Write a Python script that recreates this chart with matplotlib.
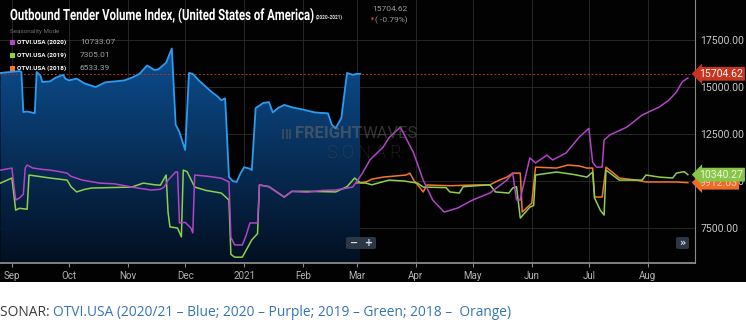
import matplotlib.pyplot as plt
import matplotlib.dates as mdates
import matplotlib.ticker as mticker
from matplotlib.patches import Rectangle, FancyBboxPatch, PathPatch
from matplotlib.textpath import TextPath
from matplotlib.font_manager import FontProperties
from matplotlib.transforms import Affine2D, IdentityTransform
import numpy as np
import pandas as pd

# OTVI.USA current season (2020/21)
blue_dates = ['2020-08-26', '2020-08-31', '2020-09-05', '2020-09-06', '2020-09-07', '2020-09-09',
              '2020-09-13', '2020-09-14', '2020-09-16', '2020-09-17', '2020-09-21', '2020-09-24',
              '2020-09-28', '2020-09-29', '2020-10-01', '2020-10-05', '2020-10-09', '2020-10-15',
              '2020-10-20', '2020-10-25', '2020-10-30', '2020-11-03', '2020-11-07', '2020-11-11',
              '2020-11-15', '2020-11-17', '2020-11-21', '2020-11-24', '2020-11-26', '2020-11-28',
              '2020-12-01', '2020-12-03', '2020-12-05', '2020-12-08', '2020-12-12', '2020-12-15',
              '2020-12-18', '2020-12-20', '2020-12-22', '2020-12-24', '2020-12-26', '2020-12-28',
              '2020-12-30', '2021-01-01', '2021-01-04', '2021-01-05', '2021-01-07', '2021-01-11',
              '2021-01-14', '2021-01-16', '2021-01-19', '2021-01-22', '2021-01-27', '2021-02-01',
              '2021-02-07', '2021-02-14', '2021-02-16', '2021-02-18', '2021-02-21', '2021-02-24',
              '2021-02-27', '2021-03-01', '2021-03-03']
blue_vals = [15750, 15800, 15850, 15800, 13670, 13700, 13610, 15800, 15600, 15270, 15300, 15500,
             15650, 15450, 15350, 15450, 15200, 15000, 15250, 15300, 15350, 15500, 15700, 16150,
             15900, 15950, 16300, 17050, 13000, 12600, 11650, 15750, 15700, 15370, 15000, 14730,
             14500, 14300, 14400, 10210, 10000, 9950, 10400, 10740, 10650, 10580, 13880, 14150,
             14200, 13650, 13900, 14050, 13900, 13800, 13650, 13600, 13000, 12800, 13350, 15750,
             15650, 15700, 15704.62]

# OTVI.USA (2020) seasonality
purple_dates = ['2020-08-26', '2020-09-01', '2020-09-02', '2020-09-03', '2020-09-05', '2020-09-07',
                '2020-09-08', '2020-09-09', '2020-09-12', '2020-09-17', '2020-09-21', '2020-09-26',
                '2020-09-30', '2020-10-02', '2020-10-08', '2020-10-17', '2020-10-25', '2020-11-03',
                '2020-11-13', '2020-11-18', '2020-11-20', '2020-11-22', '2020-11-26', '2020-11-27',
                '2020-11-28', '2020-12-01', '2020-12-04', '2020-12-05', '2020-12-06', '2020-12-13',
                '2020-12-20', '2020-12-24', '2020-12-25', '2020-12-27', '2020-12-31', '2021-01-02',
                '2021-01-04', '2021-01-08', '2021-01-09', '2021-01-14', '2021-01-22', '2021-01-26',
                '2021-02-03', '2021-02-11', '2021-02-18', '2021-02-27', '2021-03-04', '2021-03-08',
                '2021-03-15', '2021-03-18', '2021-03-24', '2021-03-31', '2021-04-05', '2021-04-10',
                '2021-04-16', '2021-04-23', '2021-05-01', '2021-05-10', '2021-05-19', '2021-05-22',
                '2021-05-24', '2021-05-26', '2021-05-27', '2021-05-31', '2021-06-03', '2021-06-09',
                '2021-06-12', '2021-06-19', '2021-06-26', '2021-07-01', '2021-07-03', '2021-07-05',
                '2021-07-08', '2021-07-09', '2021-07-12', '2021-07-21', '2021-07-29', '2021-08-07',
                '2021-08-12', '2021-08-16', '2021-08-19', '2021-08-22']
purple_vals = [10580, 10690, 9800, 8990, 9100, 9300, 10700, 10850, 10690, 10620, 10580, 10500,
               10420, 10250, 10050, 9890, 9850, 9680, 9520, 9560, 9680, 10050, 10480, 10480,
               7770, 7800, 7500, 7240, 10320, 10250, 10150, 9950, 7000, 6600, 6600, 7100,
               7770, 7770, 9790, 9700, 9150, 9450, 9400, 9500, 9520, 9680, 10400, 11120,
               11810, 12300, 12870, 11490, 10050, 8990, 8350, 8560, 8990, 9360, 10050, 10420,
               9000, 8990, 9500, 11230, 10960, 11380, 11120, 11490, 12340, 12800, 11000, 10740,
               10740, 12180, 12450, 12870, 13510, 13940, 14300, 14730, 15270, 15480]

# OTVI.USA (2019) seasonality
green_dates = ['2020-08-26', '2020-09-01', '2020-09-03', '2020-09-05', '2020-09-09', '2020-09-10',
               '2020-09-21', '2020-09-30', '2020-10-02', '2020-10-05', '2020-10-09', '2020-10-13',
               '2020-10-22', '2020-11-03', '2020-11-09', '2020-11-15', '2020-11-18', '2020-11-21',
               '2020-11-22', '2020-11-23', '2020-11-27', '2020-11-29', '2020-11-30', '2020-12-02',
               '2020-12-06', '2020-12-12', '2020-12-20', '2020-12-24', '2020-12-25', '2020-12-27',
               '2020-12-31', '2021-01-05', '2021-01-08', '2021-01-09', '2021-01-14', '2021-01-22',
               '2021-01-26', '2021-02-05', '2021-02-18', '2021-02-24', '2021-02-28', '2021-03-03',
               '2021-03-06', '2021-03-09', '2021-03-18', '2021-03-26', '2021-04-02', '2021-04-05',
               '2021-04-17', '2021-04-19', '2021-04-24', '2021-04-26', '2021-05-10', '2021-05-13',
               '2021-05-20', '2021-05-22', '2021-05-24', '2021-05-26', '2021-05-31', '2021-06-02',
               '2021-06-03', '2021-06-14', '2021-06-23', '2021-06-30', '2021-07-03', '2021-07-04',
               '2021-07-07', '2021-07-09', '2021-07-10', '2021-07-17', '2021-07-29', '2021-07-31',
               '2021-08-07', '2021-08-14', '2021-08-16', '2021-08-20', '2021-08-22']
green_vals = [9890, 10160, 8450, 8550, 8500, 10320, 10160, 10050, 9700, 9420, 9550, 9630,
              9650, 9680, 9890, 9800, 9780, 10320, 8350, 7560, 7500, 7030, 10580, 10500,
              9680, 9500, 9360, 8990, 6100, 5950, 5950, 6870, 7200, 9790, 9700, 9150,
              9450, 9450, 9420, 9700, 10160, 9900, 9890, 9800, 10050, 10000, 9890, 9680,
              9650, 9420, 9360, 9700, 9800, 9420, 9360, 9630, 9700, 8030, 8610, 8700,
              10320, 10480, 10350, 10210, 10480, 9100, 8450, 8190, 10580, 10050, 10050, 10320,
              10210, 10160, 10420, 10500, 10340.27]

# OTVI.USA (2018) seasonality
orange_dates = ['2021-03-01', '2021-03-06', '2021-03-09', '2021-03-15', '2021-03-27', '2021-03-29',
                '2021-03-31', '2021-04-03', '2021-04-05', '2021-04-07', '2021-04-19', '2021-05-02',
                '2021-05-10', '2021-05-15', '2021-05-19', '2021-05-22', '2021-05-26', '2021-05-27',
                '2021-06-01', '2021-06-03', '2021-06-14', '2021-06-20', '2021-06-26', '2021-06-30',
                '2021-07-03', '2021-07-04', '2021-07-08', '2021-07-10', '2021-07-13', '2021-07-17',
                '2021-07-26', '2021-07-31', '2021-08-16', '2021-08-22']
orange_vals = [9890, 9950, 10100, 10210, 10320, 10420, 10050, 9680, 9420, 9790, 9750, 9790,
               9800, 10050, 10210, 10420, 10420, 8350, 8820, 10740, 10690, 10850, 10800, 10690,
               10690, 9150, 9150, 10740, 10500, 10160, 10050, 9950, 9950, 9912.03]

legend_names = ['OTVI.USA (2020)', 'OTVI.USA (2019)', 'OTVI.USA (2018)']
legend_vals = ['10733.07', '7305.01', '6533.39']
y_ticks = [7500, 10000, 12500, 15000, 17500]

BLUE = '#2b9cf0'
PURPLE = '#b145c6'
GREEN = '#8fcf4c'
ORANGE = '#f2782c'

W, H = 746, 336
fig = plt.figure(figsize=(W / 100, H / 100), dpi=100)
fig.patch.set_facecolor('white')
fig.add_artist(Rectangle((0, 54 / H), 1, 282 / H, transform=fig.transFigure,
                         facecolor='#020202', edgecolor='none', zorder=0))

ax = fig.add_axes([0, 73 / H, 695 / W, 263 / H])
ax.set_facecolor('#020202')

bd = pd.to_datetime(blue_dates)
bx = mdates.date2num(bd)

# gradient fill under the current season line
poly = ax.fill_between(bd, blue_vals, 0, facecolor='none', edgecolor='none')
grad = np.linspace(0, 1, 256)[:, None, None]
top = np.array([0.05, 0.31, 0.57])
bottom = np.array([0.01, 0.06, 0.13])
rgb = bottom + (top - bottom) * grad
im = ax.imshow(rgb, extent=(bx[0], bx[-1], 5640, 17100), origin='lower',
               aspect='auto', zorder=1, interpolation='bilinear')
im.set_clip_path(poly.get_paths()[0], transform=ax.transData)

ax.plot(bd, blue_vals, color=BLUE, lw=1.3, zorder=3)
ax.plot(pd.to_datetime(orange_dates), orange_vals, color=ORANGE, lw=1.1, zorder=3)
ax.plot(pd.to_datetime(green_dates), green_vals, color=GREEN, lw=1.1, zorder=3)
ax.plot(pd.to_datetime(purple_dates), purple_vals, color=PURPLE, lw=1.1, zorder=3)

ax.axhline(blue_vals[-1], color='#b8321f', lw=0.7, ls=(0, (2, 2)), zorder=2)

ax.set_xlim(pd.Timestamp('2020-08-25 18:00'), pd.Timestamp('2021-08-25 18:00'))
ax.set_ylim(5640, 19630)

# grid and axes
ax.xaxis.set_major_locator(mdates.MonthLocator())
ax.xaxis.set_major_formatter(mticker.FuncFormatter(
    lambda v, p: mdates.num2date(v).strftime('%Y' if mdates.num2date(v).month == 1 else '%b')))
ax.set_yticks(y_ticks)
ax.yaxis.set_major_formatter(mticker.FormatStrFormatter('%.2f'))
ax.yaxis.tick_right()
ax.grid(True, color='#2c2c2c', lw=0.6, zorder=0)
ax.set_axisbelow(True)

for s in ['left', 'top']:
    ax.spines[s].set_visible(False)
ax.spines['right'].set_color('#8a8a8a')
ax.spines['bottom'].set_color('#8a8a8a')
ax.spines['bottom'].set_linewidth(1.3)
ax.tick_params(axis='x', colors='#8a8a8a', length=3, pad=3, labelsize=7, labelcolor='#b4b4b4')
ax.tick_params(axis='y', length=0, pad=4, labelsize=7.6, labelcolor='#c8c8c8')
for lab in ax.get_xticklabels() + ax.get_yticklabels():
    lab.set_family('Roboto')

# value tags on the right axis
tags = [(blue_vals[-1], '#c9341f', 'white'),
        (orange_vals[-1], '#ee6b25', '#f6d0b8'),
        (green_vals[-1], '#86c548', '#eaf7dc')]
for val, bg, fg in tags:
    ax.annotate(f'{val:.2f}', xy=(1, val), xycoords=ax.get_yaxis_transform(),
                xytext=(3, 0), textcoords='offset points', va='center', ha='left',
                fontsize=7.6, family='Roboto', color=fg, zorder=6, annotation_clip=False,
                bbox=dict(boxstyle='larrow,pad=0.18', fc=bg, ec='none'))

# title, drawn as a path squeezed horizontally to a condensed look
title = 'Outbound Tender Volume Index, (United States of America)'
tp = TextPath((0, 0), title, size=15.5, prop=FontProperties(family='Roboto', weight='bold'))
ext = tp.get_extents()
sx = 303 / ext.width
fig.add_artist(PathPatch(tp, transform=Affine2D().scale(sx, 1).translate(10, H - 20)
                         + IdentityTransform(), facecolor='white', edgecolor='none',
                         zorder=5))
fig.text(316 / W, 1 - 17 / H, '(2020-2021)', color='#dddddd', fontsize=3.4,
         fontweight='bold', va='center', family='Roboto')
fig.text(372 / W, 1 - 9 / H, '15704.62', color='#9a9a9a', fontsize=6, va='center',
         family='Roboto')
fig.text(370 / W, 1 - 20 / H, '\u2022', color='#e03030', fontsize=6, va='center')
fig.text(375 / W, 1 - 20 / H, '( -0.79%)', color='#9a9a9a', fontsize=6, va='center',
         family='Roboto')

# legend
fig.text(10 / W, 1 - 32 / H, 'Seasonality Mode', color='#6e6e6e', fontsize=4.5,
         va='center', family='Roboto')
for i, (name, val, col) in enumerate(zip(legend_names, legend_vals, [PURPLE, GREEN, ORANGE])):
    yy = 1 - (42 + 13 * i) / H
    fig.add_artist(Rectangle((10 / W, yy - 2.5 / H), 5 / W, 5 / H,
                             transform=fig.transFigure, facecolor=col, edgecolor='none',
                             zorder=5))
    fig.text(17 / W, yy, name, color='white', fontsize=4.6, fontweight='bold',
             va='center', zorder=5, family='Roboto')
    fig.text(80 / W, yy, val, color='#a0a0a0', fontsize=6, va='center', family='Roboto',
             zorder=5)

# watermark
for k in range(3):
    fig.add_artist(Rectangle(((282 + 3.5 * k) / W, 1 - 139 / H), 2.4 / W, 10 / H,
                             transform=fig.transFigure, facecolor='#5a5a5a', alpha=0.55,
                             edgecolor='none', zorder=4))
wm = fig.text(295 / W, 1 - 134 / H, 'FREIGHT', color='#6a6a6a', alpha=0.55,
              fontsize=12, fontweight='bold', va='center', family='Roboto', zorder=4)
ax.annotate('WAVES', xy=(1, 0.5), xycoords=wm, va='center', ha='left', color='#5a5a5a',
            alpha=0.55, fontsize=12, family='Roboto', annotation_clip=False, zorder=4)
fig.text(327 / W, 1 - 153 / H, 'S O N A R', color='#5a5a5a', alpha=0.5, fontsize=13,
         va='center', fontweight='light', family='Roboto', zorder=4)

# zoom buttons
for x0, w, txt in [(346, 30, '\u2212  +'), (676, 13, '\u00bb')]:
    fig.add_artist(FancyBboxPatch((x0 / W, 1 - 249 / H), w / W, 12 / H,
                                  boxstyle='round,pad=0,rounding_size=0.004',
                                  transform=fig.transFigure, facecolor='#2b3744',
                                  edgecolor='none', zorder=5))
    fig.text((x0 + w / 2) / W, 1 - 243 / H, txt, color='#d8dee6', fontsize=7,
             ha='center', va='center', zorder=6, fontweight='bold')

# caption below the chart
cap = fig.text(0, 1 - 313 / H, 'SONAR: ', color='#3a3a3a', fontsize=9.9, va='center',
               family='Open Sans')
ax.annotate('OTVI.USA (2020/21 \u2013 Blue; 2020 \u2013 Purple; 2019 \u2013 Green; '
            '2018 \u2013  Orange)', xy=(1, 0.5), xycoords=cap, va='center', ha='left',
            color='#3574b4', fontsize=9.9, family='Open Sans', annotation_clip=False)

plt.savefig('out.png', dpi=100, facecolor='white')
